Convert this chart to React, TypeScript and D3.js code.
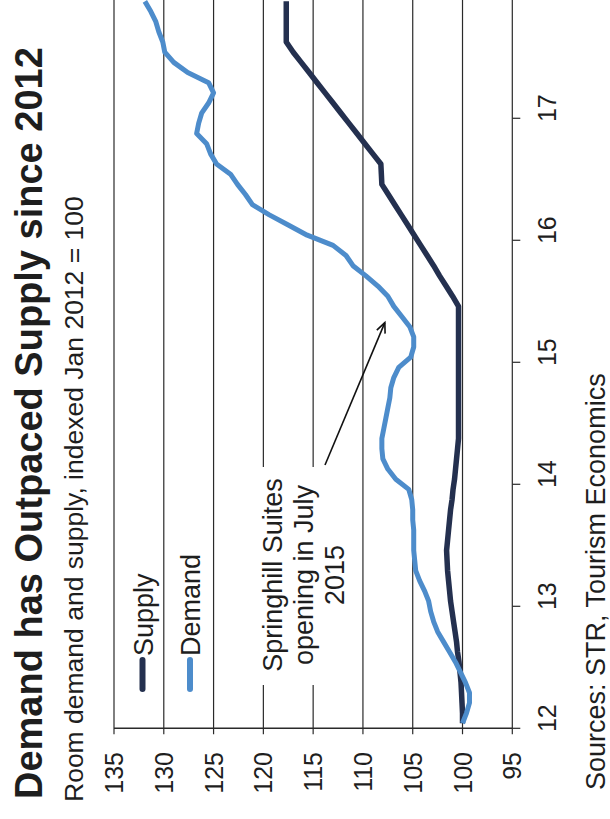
import React from "react";
import * as d3 from "d3";

// ---- data (monthly, Jan 2012 .. Dec 2017), index Jan 2012 = 100 ----
const yearLabels = ["12", "13", "14", "15", "16", "17"];
const valueTicks = [95, 100, 105, 110, 115, 120, 125, 130, 135];

const supply = [
  100.0, 100.0, 100.05, 100.1, 100.15, 100.25, 100.35, 100.5, 100.6, 100.75, 100.9, 101.05,
  101.2, 101.3, 101.4, 101.5, 101.55, 101.6, 101.5, 101.4, 101.3, 101.2, 101.05, 100.95,
  100.8, 100.7, 100.6, 100.5, 100.4, 100.4, 100.4, 100.4, 100.4, 100.4, 100.4, 100.4,
  100.4, 100.4, 100.4, 100.4, 100.4, 100.4, 101.0, 101.65, 102.3, 102.9, 103.55, 104.2,
  104.85, 105.5, 106.15, 106.8, 107.45, 108.1, 108.15, 108.2, 109.0, 109.8, 110.6, 111.4,
  112.2, 113.0, 113.8, 114.6, 115.4, 116.2, 117.0, 117.7, 117.7, 117.7, 117.7, 117.7,
];

const demand = [
  100.0, 99.6, 99.3, 99.3, 99.7, 100.2, 100.7, 101.3, 101.9, 102.5, 102.9, 103.2,
  103.4, 103.8, 104.3, 104.7, 104.8, 104.9, 104.9, 104.9, 105.0, 105.0, 105.1, 105.4,
  106.7, 107.5, 108.0, 108.1, 108.1, 107.9, 107.7, 107.5, 107.3, 107.2, 106.9, 106.4,
  105.2, 104.9, 104.9, 105.3, 106.1, 106.9, 107.5, 108.5, 109.7, 111.0, 111.7, 113.0,
  115.6, 117.5, 119.4, 121.1, 121.8, 122.6, 123.3, 124.7, 125.3, 125.7, 126.7, 126.5,
  126.2, 125.5, 125.0, 125.5, 127.6, 129.0, 129.9, 130.1, 130.5, 130.8, 131.3, 131.9,
];

const seriesNames = ["Supply", "Demand"];
const seriesColors = ["#24304f", "#4d8ccb"];
const annotationLines = ["Springhill Suites", "opening in July", "2015"];
const annotationTarget = { month: 39.4, value: 107.8 };

const FONT = "'Liberation Sans', Arial, Helvetica, sans-serif";

export default function App() {
  // chart is drawn in an unrotated frame (W x H) then rotated -90deg into the 610x819 page
  const W = 819;
  const monthW = 10.167;
  const x0 = 90.7;
  const x = d3.scaleLinear().domain([-0.5, 71.5]).range([x0, x0 + 72 * monthW]);
  const y = d3.scaleLinear().domain([95, 135]).range([512.3, 114]);

  const line = d3
    .line<number>()
    .x((_, i) => x(i))
    .y((d) => y(d))
    .curve(d3.curveLinear);

  const textColor = "#1e1e1e";
  const gridColor = "#2a2a2a";

  // arrow
  const ax1 = 354, ay1 = 325;
  const ax2 = x(annotationTarget.month), ay2 = y(annotationTarget.value);
  const ang = Math.atan2(ay2 - ay1, ax2 - ax1);
  const headLen = 11, headAng = 0.42;
  const h1 = [ax2 - headLen * Math.cos(ang - headAng), ay2 - headLen * Math.sin(ang - headAng)];
  const h2 = [ax2 - headLen * Math.cos(ang + headAng), ay2 - headLen * Math.sin(ang + headAng)];

  return (
    <svg
      width={610}
      height={819}
      style={{ position: "absolute", left: 0, top: 0, background: "#fff" }}
    >
      <rect x={0} y={0} width={610} height={819} fill="#fff" />
      <g transform={`translate(0,${W}) rotate(-90)`} fontFamily={FONT} fill={textColor}>
        {/* title */}
        <text x={20} y={42} fontSize={38} fontWeight="bold">
          Demand has Outpaced Supply since 2012
        </text>
        <text x={17} y={83} fontSize={26.5}>
          Room demand and supply, indexed Jan 2012 = 100
        </text>

        {/* gridlines */}
        {valueTicks.map((v) => (
          <line
            key={"g" + v}
            x1={x0 - 6}
            x2={W + 10}
            y1={y(v)}
            y2={y(v)}
            stroke={gridColor}
            strokeWidth={1.2}
          />
        ))}
        {/* value axis line */}
        <line x1={x0} x2={x0} y1={y(135)} y2={y(95)} stroke={gridColor} strokeWidth={1.4} />
        {/* time ticks */}
        {d3.range(0, 7).map((k) => (
          <line
            key={"t" + k}
            x1={x(12 * k - 0.5)}
            x2={x(12 * k - 0.5)}
            y1={y(95)}
            y2={y(95) + 8}
            stroke={gridColor}
            strokeWidth={1.2}
          />
        ))}
        {/* value labels */}
        {valueTicks.map((v) => (
          <text key={"v" + v} x={67} y={y(v)} dy="0.36em" fontSize={25} textAnchor="end">
            {v}
          </text>
        ))}
        {/* time labels */}
        {yearLabels.map((lab, k) => (
          <text key={"y" + lab} x={x(12 * k + 0.5)} y={556} fontSize={25} textAnchor="middle">
            {lab}
          </text>
        ))}

        {/* annotation box + text */}
        <rect x={134} y={242} width={218} height={108} fill="#fff" />
        {annotationLines.map((t, i) => (
          <text key={"a" + i} x={244} y={282 + i * 31} fontSize={27} textAnchor="middle">
            {t}
          </text>
        ))}
        <line x1={ax1} y1={ay1} x2={ax2} y2={ay2} stroke="#111" strokeWidth={1.6} />
        <polyline
          points={`${h1[0]},${h1[1]} ${ax2},${ay2} ${h2[0]},${h2[1]}`}
          fill="none"
          stroke="#111"
          strokeWidth={1.6}
        />

        {/* legend */}
        {seriesNames.map((name, i) => (
          <g key={"l" + name}>
            <line
              x1={130}
              x2={159}
              y1={142.5 + i * 47.5}
              y2={142.5 + i * 47.5}
              stroke={seriesColors[i]}
              strokeWidth={6}
              strokeLinecap="round"
            />
            <text x={163} y={153 + i * 47} fontSize={27}>
              {name}
            </text>
          </g>
        ))}

        {/* series */}
        <path d={line(supply) || ""} fill="none" stroke={seriesColors[0]} strokeWidth={5.5} strokeLinejoin="round" />
        <path d={line(demand) || ""} fill="none" stroke={seriesColors[1]} strokeWidth={5} strokeLinejoin="round" />

        {/* source */}
        <text x={29} y={605} fontSize={27}>
          Sources: STR, Tourism Economics
        </text>
      </g>
    </svg>
  );
}
